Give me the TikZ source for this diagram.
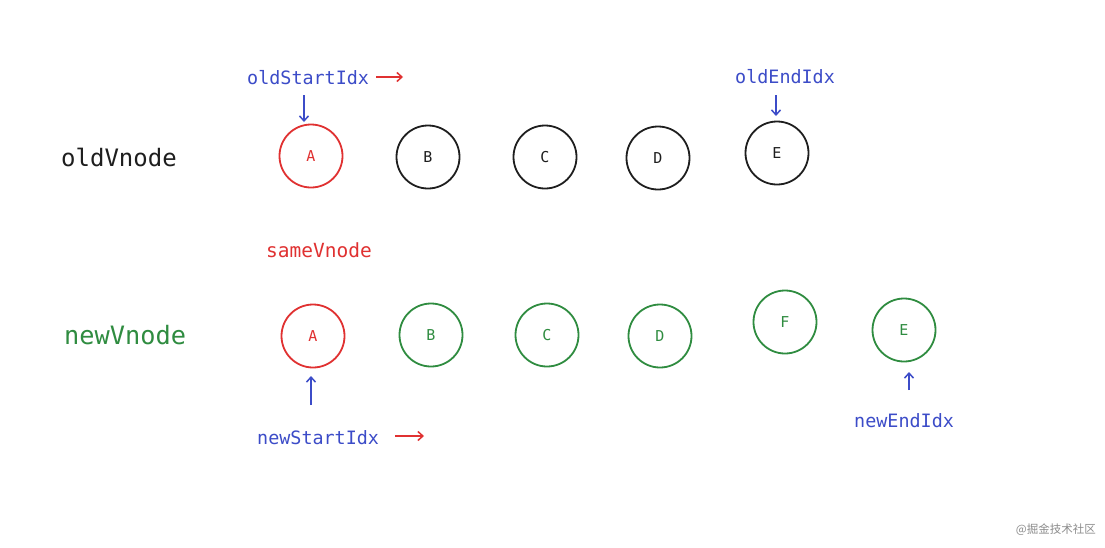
\documentclass[tikz,border=0pt]{standalone}
\usepackage{fontspec}
\usetikzlibrary{arrows.meta}
\setmainfont{DejaVu Sans Mono}
\newfontfamily\cjk{Noto Sans CJK SC}
\definecolor{cred}{RGB}{224,49,49}
\definecolor{cblack}{RGB}{30,30,30}
\definecolor{cgreen}{RGB}{47,140,64}
\definecolor{cblue}{RGB}{60,76,200}
\begin{document}
\begin{tikzpicture}[x=1pt,y=-1pt,
  vn/.style={circle,draw,line width=1.8pt,minimum size=63pt,inner sep=0pt,font=\fontsize{15}{15}\selectfont},
  lbl/.style={inner sep=0pt,font=\fontsize{18.4}{20}\selectfont},
  big/.style={inner sep=0pt,font=\fontsize{24}{26}\selectfont},
  arr/.style={-{Straight Barb[length=5pt,width=9pt,line width=1.5pt]},line width=1.6pt}]
\useasboundingbox (0,0) rectangle (1105,547);
\fill[white] (0,0) rectangle (1105,547);
% row labels
\node[big,text=cblack,anchor=west] (oldlbl) at (61,157) {oldVnode};
\node[big,text=cgreen,anchor=west,font=\fontsize{25.3}{27}\selectfont] (newlbl) at (64,335) {newVnode};
% old row
\node[vn,draw=cred,text=cred] (oA) at (311,156) {A};
\node[vn,draw=cblack,text=cblack] (oB) at (428,157) {B};
\node[vn,draw=cblack,text=cblack] (oC) at (545,157) {C};
\node[vn,draw=cblack,text=cblack] (oD) at (658,158) {D};
\node[vn,draw=cblack,text=cblack] (oE) at (777,153) {E};
% new row
\node[vn,draw=cred,text=cred] (nA) at (313,336) {A};
\node[vn,draw=cgreen,text=cgreen] (nB) at (431,335) {B};
\node[vn,draw=cgreen,text=cgreen] (nC) at (547,335) {C};
\node[vn,draw=cgreen,text=cgreen] (nD) at (660,336) {D};
\node[vn,draw=cgreen,text=cgreen] (nF) at (785,322) {F};
\node[vn,draw=cgreen,text=cgreen] (nE) at (904,330) {E};
% labels
\node[lbl,text=cblue,anchor=west] (osi) at (247,78) {oldStartIdx};
\node[lbl,text=cblue,anchor=west] (oei) at (735,77) {oldEndIdx};
\node[lbl,text=cred,anchor=west,font=\fontsize{19.5}{21}\selectfont] (same) at (266,250) {sameVnode};
\node[lbl,text=cblue,anchor=west] (nsi) at (257,438) {newStartIdx};
\node[lbl,text=cblue,anchor=west] (nei) at (854,421) {newEndIdx};
% arrows
\coordinate (r1s) at (376,77); \coordinate (r1e) at (403,77);
\coordinate (r2s) at (395,436); \coordinate (r2e) at (424,436);
\coordinate (a1s) at (304,95); \coordinate (a1e) at (304,122);
\coordinate (a2s) at (776,95); \coordinate (a2e) at (776,116);
\coordinate (a3s) at (311,405); \coordinate (a3e) at (311,376);
\coordinate (a4s) at (909,390); \coordinate (a4e) at (909,372);
\draw[arr,cred] (r1s) -- (r1e);
\draw[arr,cred] (r2s) -- (r2e);
\draw[arr,cblue] (a1s) -- (a1e);
\draw[arr,cblue] (a2s) -- (a2e);
\draw[arr,cblue,line width=2.2pt] (a3s) -- (a3e);
\draw[arr,cblue] (a4s) -- (a4e);
% watermark
\node[inner sep=0pt,anchor=east,text=black!45,font=\cjk\fontsize{11.5}{13}\selectfont] (wm) at (1096,530) {@掘金技术社区};
\end{tikzpicture}
\end{document}
